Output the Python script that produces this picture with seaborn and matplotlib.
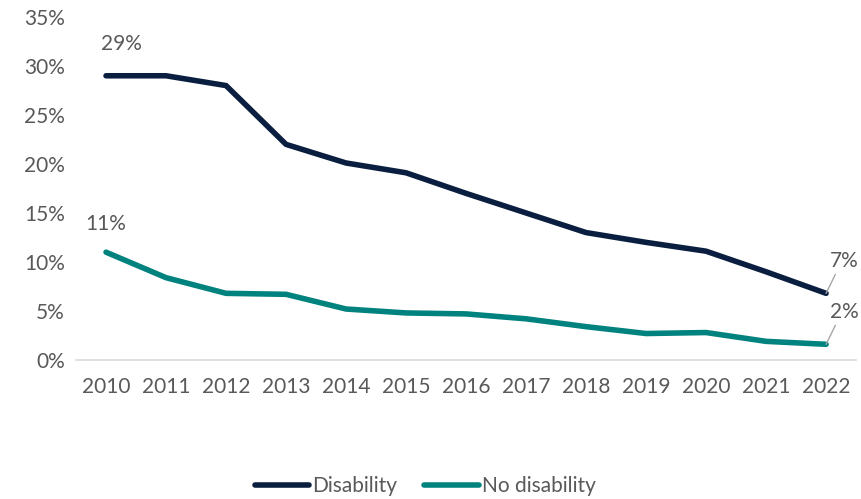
import matplotlib
matplotlib.use("Agg")
import matplotlib.pyplot as plt
import seaborn as sns
import pandas as pd

years = [2010, 2011, 2012, 2013, 2014, 2015, 2016, 2017, 2018, 2019, 2020, 2021, 2022]
disability = [29.0, 29.0, 28.0, 22.0, 20.1, 19.1, 17.0, 15.0, 13.0, 12.0, 11.1, 9.0, 6.8]
no_disability = [11.0, 8.4, 6.8, 6.7, 5.2, 4.8, 4.7, 4.2, 3.4, 2.7, 2.8, 1.9, 1.6]
series_names = ["Disability", "No disability"]
y_ticks = [0, 5, 10, 15, 20, 25, 30, 35]

sns.set_theme(style="white")
plt.rcParams["font.family"] = ["Lato", "DejaVu Sans"]

df = pd.DataFrame({
    "pos": list(range(len(years))) * 2,
    "value": disability + no_disability,
    "group": [series_names[0]] * len(years) + [series_names[1]] * len(years),
})

palette = {"Disability": "#0A1E40", "No disability": "#00827F"}
text_color = "#595959"
fs = 15

fig = plt.figure(figsize=(8.61, 4.99), dpi=100)
ax = fig.add_axes([0.0883, 0.2786, 0.906, 0.6874])

sns.lineplot(data=df, x="pos", y="value", hue="group", palette=palette,
             linewidth=4, ax=ax, legend=False, solid_capstyle="round")

ax.set_xlim(-0.5, len(years) - 0.5)
ax.set_ylim(0, 35)
ax.set_xticks(range(len(years)))
ax.set_xticklabels([str(y) for y in years])
ax.set_yticks(y_ticks)
ax.set_yticklabels([f"{t}%" for t in y_ticks])
ax.tick_params(axis="both", labelsize=fs, colors=text_color, length=0)
ax.tick_params(axis="x", pad=12)
ax.tick_params(axis="y", pad=8)
ax.set_xlabel("")
ax.set_ylabel("")
for side in ["top", "right", "left"]:
    ax.spines[side].set_visible(False)
ax.spines["bottom"].set_color("#D9D9D9")
ax.spines["bottom"].set_linewidth(1.2)

# Value labels at the start of each series
ax.annotate(f"{disability[0]:.0f}%", (0, disability[0]), xytext=(11, 16),
            textcoords="offset points", ha="center", va="bottom",
            fontsize=fs, color=text_color)
ax.annotate(f"{no_disability[0]:.0f}%", (0, no_disability[0]), xytext=(0, 13),
            textcoords="offset points", ha="center", va="bottom",
            fontsize=fs, color=text_color)

# Value labels at the end of each series, with leader lines
last = len(years) - 1
for vals in (disability, no_disability):
    ax.annotate(f"{vals[-1]:.0f}%", (last, vals[-1]), xytext=(13, 16),
                textcoords="offset points", ha="center", va="bottom",
                fontsize=fs, color=text_color, annotation_clip=False,
                arrowprops=dict(arrowstyle="-", color="#A6A6A6", lw=1,
                                shrinkA=0, shrinkB=0,
                                relpos=(0.25, 0.0)))

handles = [plt.Line2D([], [], color=palette[n], lw=4, solid_capstyle="round")
           for n in series_names]
fig.legend(handles, series_names, loc="center", bbox_to_anchor=(0.494, 0.026),
           ncol=2, frameon=False, fontsize=fs, labelcolor=text_color,
           handlelength=2.6, handletextpad=0.15, columnspacing=1.3)

fig.savefig("out.png", dpi=100)
